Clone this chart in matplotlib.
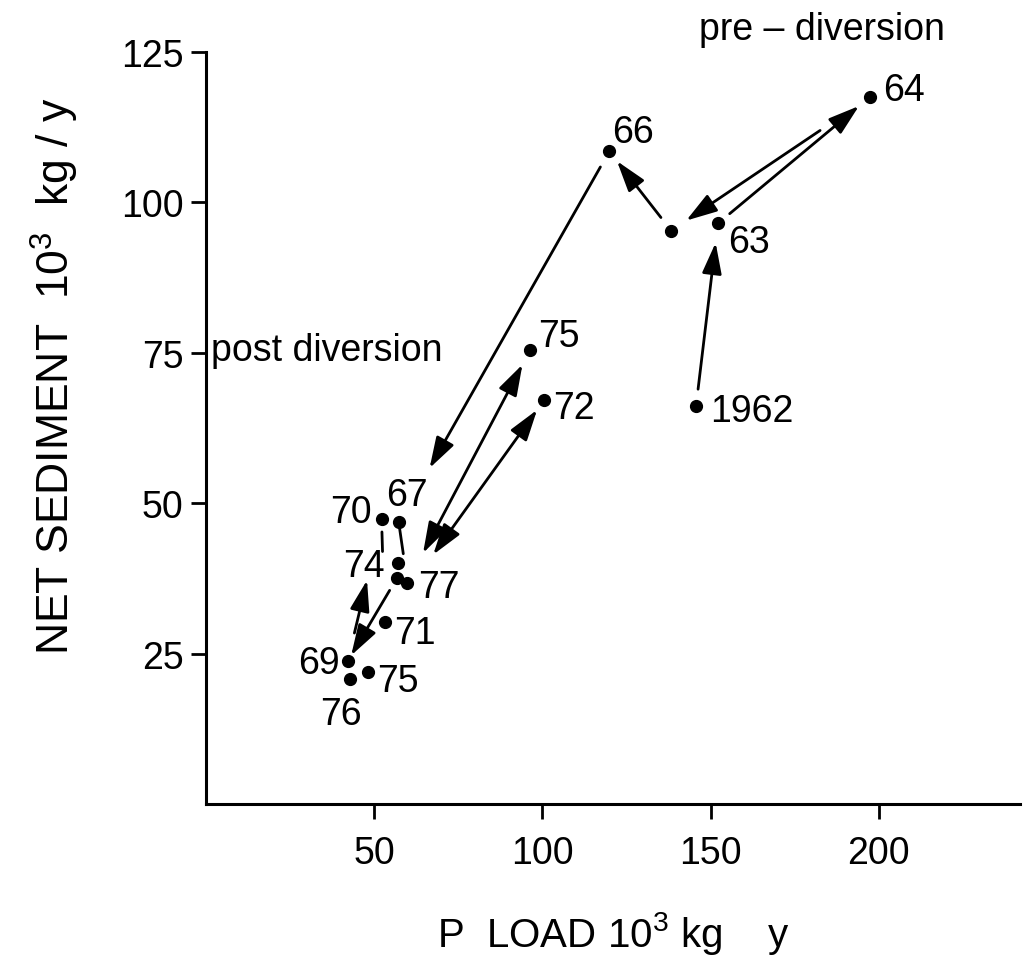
import matplotlib
matplotlib.use("Agg")
import matplotlib.pyplot as plt

plt.rcParams['font.family'] = ['Liberation Sans', 'DejaVu Sans']
plt.rcParams['mathtext.default'] = 'regular'

# yearly points: P load vs net sediment (10^3 kg/y)
point_ids = ["1962", "63", "64", "65", "66", "67", "70", "74", "73", "77",
             "71", "69", "75b", "76", "75a", "72"]
point_labels = ["1962", "63", "64", "", "66", "67", "70", "74", "", "77",
                "71", "69", "75", "76", "75", "72"]
p_load = [145.7, 152.2, 197.3, 138.3, 119.9, 57.3, 52.2, 57.0, 56.7, 59.9,
          53.1, 42.1, 48.1, 42.7, 96.4, 100.6]
net_sediment = [66.2, 96.5, 117.5, 95.3, 108.5, 46.8, 47.3, 40.0, 37.5, 36.8,
                30.2, 23.7, 22.0, 20.7, 75.5, 67.2]

x_ticks = [50, 100, 150, 200]
y_ticks = [25, 50, 75, 100, 125]

# year-to-year moves: (from, to, style)
moves = [("1962", "63", "-|>"), ("63", "64", "-|>"), ("64", "65", "-|>"),
         ("65", "66", "-|>"), ("66", "67", "-|>"), ("75a", "77", "<|-|>"),
         ("72", "71", "<|-|>"), ("73", "69", "-|>"), ("69", "70", "-|>"),
         ("70", "71", "-"), ("67", "77", "-")]

# gap (points) left at each end of a move
move_gaps = [(12, 14), (11, 10), (43, 13), (12, 9), (13, 45), (12, 24),
             (9, 60), (10, 5), (21, 45), (9, 51), (4, 21)]

# label placement: (dx, dy) in points, horizontal alignment
label_pos = {
    "1962": (10, -4, "left"), "63": (7, -13, "left"), "64": (10, 5, "left"),
    "66": (2, 14, "left"), "67": (6, 20, "center"), "70": (-7, 5, "right"),
    "74": (-9, -2, "right"), "77": (8, -3, "left"), "71": (7, -8, "left"),
    "69": (-6, -1, "right"), "75b": (7, -7, "left"), "76": (-6, -25, "center"),
    "75a": (6, 10, "left"), "72": (6, -6, "left"),
}

fig = plt.figure(figsize=(10.23, 9.62), dpi=100)
ax = fig.add_axes([206 / 1023, 157 / 962, 814 / 1023, 752 / 962])

ax.plot(p_load, net_sediment, "o", color="black", markersize=8.5, zorder=3)

pos = {pid: (x, y) for pid, x, y in zip(point_ids, p_load, net_sediment)}
for (a, b, style), (ga, gb) in zip(moves, move_gaps):
    if style == "-":
        props = dict(arrowstyle="-", lw=2, color="black",
                     shrinkA=ga, shrinkB=gb)
    else:
        props = dict(arrowstyle=style + ",head_length=0.95,head_width=0.3",
                     mutation_scale=20, lw=2, color="black",
                     shrinkA=ga, shrinkB=gb)
    ax.annotate("", xy=pos[b], xytext=pos[a], arrowprops=props)

for pid, lab in zip(point_ids, point_labels):
    if not lab:
        continue
    dx, dy, ha = label_pos[pid]
    ax.annotate(lab, pos[pid], xytext=(dx, dy), textcoords="offset points",
                ha=ha, va="center", fontsize=27)

ax.text(36, 75.5, "post diversion", fontsize=27, ha="center", va="center")
ax.text(183, 128.8, "pre \u2013 diversion", fontsize=27, ha="center",
        va="center")

ax.set_xlim(0, 242)
ax.set_ylim(0, 125)
ax.set_xticks(x_ticks)
ax.set_yticks(y_ticks)
ax.spines["top"].set_visible(False)
ax.spines["right"].set_visible(False)
for side in ("left", "bottom"):
    ax.spines[side].set_linewidth(2.2)
ax.tick_params(direction="out", length=11, width=2, labelsize=27)
ax.tick_params(axis="x", pad=11)
ax.tick_params(axis="y", pad=5)

ax.set_xlabel("P  LOAD $10^3$ kg    y", fontsize=29)
ax.xaxis.set_label_coords(0.5, -0.139)
ax.set_ylabel("NET SEDIMENT  $10^3$  kg / y", fontsize=32)
ax.yaxis.set_label_coords(-0.154, 0.57)

fig.savefig("out.png", dpi=100)
